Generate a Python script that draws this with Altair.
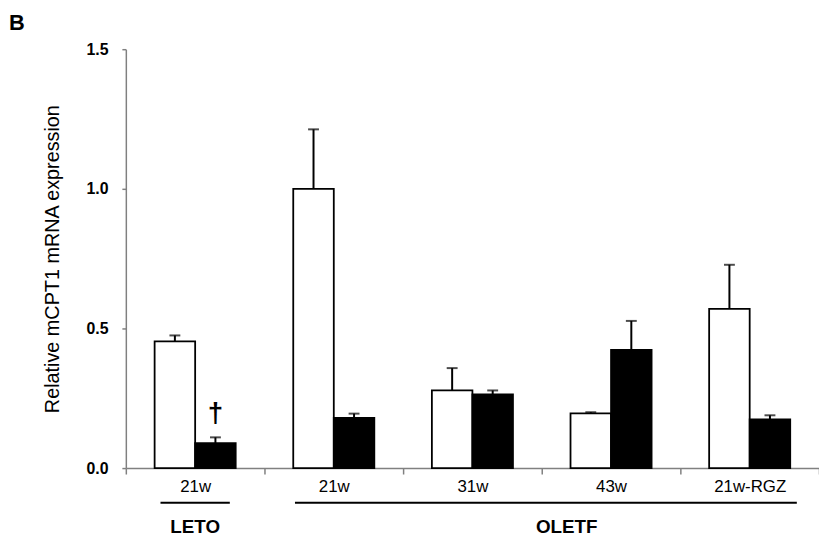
import altair as alt
import pandas as pd

# ---- data ----
groups = ["LETO 21w", "OLETF 21w", "OLETF 31w", "OLETF 43w", "OLETF 21w-RGZ"]
series = ["white", "black"]
white_mean = [0.454, 1.000, 0.278, 0.196, 0.570]
white_err = [0.021, 0.213, 0.080, 0.004, 0.158]
black_mean = [0.089, 0.180, 0.264, 0.423, 0.174]
black_err = [0.021, 0.015, 0.014, 0.104, 0.015]
black_sig = ["†", "", "", "", ""]
y_ticks = [0.0, 0.5, 1.0, 1.5]

# group annotations (in units of category bands)
group_names = ["LETO", "OLETF"]
group_line_start = [0.25, 1.22]
group_line_end = [0.75, 4.84]
group_label_pos = [0.5, 3.18]

rows = []
for i, g in enumerate(groups):
    rows.append(dict(group=g, series="white", mean=white_mean[i],
                     top=white_mean[i] + white_err[i], sig=""))
    rows.append(dict(group=g, series="black", mean=black_mean[i],
                     top=black_mean[i] + black_err[i], sig=black_sig[i]))
df = pd.DataFrame(rows)

ann = pd.DataFrame(dict(name=group_names, x0=group_line_start,
                        x1=group_line_end, lx=group_label_pos))

FONT = "Liberation Sans"
W, H = 700, 423

x_enc = alt.X("group:N", sort=groups,
              scale=alt.Scale(paddingInner=0, paddingOuter=0),
              axis=alt.Axis(title=None, labelAngle=0, tickBand="extent",
                            labelExpr="split(datum.value, ' ')[1]",
                            tickSize=6, labelFontSize=17, labelPadding=5,
                            labelFont=FONT, labelColor="black",
                            domainColor="#808080", tickColor="#808080",
                            domainWidth=1.5, tickWidth=1.5))
xo_enc = alt.XOffset("series:N", sort=series,
                     scale=alt.Scale(paddingInner=0, paddingOuter=0.71))
y_scale = alt.Scale(domain=[0, 1.5], nice=False)
y_axis = alt.Axis(title="Relative mCPT1 mRNA expression", values=y_ticks,
                  format=".1f", grid=False, tickSize=4, labelPadding=14,
                  labelFontSize=16, labelFontWeight="bold", labelFont=FONT,
                  labelColor="black", titleFont=FONT, titleFontSize=20,
                  titleFontWeight="normal", titleColor="black",
                  titlePadding=24, domainColor="#808080", tickColor="#808080",
                  domainWidth=1.5, tickWidth=1.5)

base = alt.Chart(df)

bars = base.mark_bar(stroke="black", strokeWidth=1.8).encode(
    x=x_enc, xOffset=xo_enc,
    y=alt.Y("mean:Q", scale=y_scale, axis=y_axis),
    fill=alt.Fill("series:N", scale=alt.Scale(domain=series, range=["white", "black"]), legend=None),
)
stems = base.mark_rule(color="black", strokeWidth=2).encode(
    x=x_enc, xOffset=xo_enc,
    y=alt.Y("mean:Q", scale=y_scale, axis=y_axis), y2="top:Q",
)
caps = base.mark_tick(color="black", thickness=2, size=11).encode(
    x=x_enc, xOffset=xo_enc,
    y=alt.Y("top:Q", scale=y_scale, axis=y_axis),
)
sig = base.mark_text(font=FONT, fontSize=28, fontWeight="bold", color="black",
                     baseline="alphabetic", dy=-16).encode(
    x=x_enc, xOffset=xo_enc,
    y=alt.Y("top:Q", scale=y_scale, axis=y_axis),
    text="sig:N",
)
main = alt.layer(bars, stems, caps, sig)

ax = alt.X("x0:Q", scale=alt.Scale(domain=[0, 5], nice=False, zero=False), axis=None)
lines = alt.Chart(ann).mark_rule(color="black", strokeWidth=2).encode(
    x=ax, x2="x1:Q", y=alt.value(H + 35),
)
labels = alt.Chart(ann).mark_text(font=FONT, fontSize=19, fontWeight="bold",
                                  color="black", baseline="alphabetic").encode(
    x=alt.X("lx:Q", scale=alt.Scale(domain=[0, 5], nice=False, zero=False), axis=None),
    y=alt.value(H + 66), text="name:N",
)
panel = alt.Chart(ann).transform_filter("datum.name == 'LETO'").mark_text(
    font=FONT, fontSize=22, fontWeight="bold", color="black",
    align="left", baseline="alphabetic").encode(
    x=alt.value(-118), y=alt.value(-19), text=alt.value("B"),
)

chart = alt.layer(main, lines, labels, panel).resolve_scale(x="independent").properties(
    width=W, height=H, autosize="none",
    padding={"left": 119, "top": 39, "right": 0, "bottom": 68},
).configure_view(stroke=None)

chart.save("out.html", embed_options={"renderer": "svg", "actions": False})
